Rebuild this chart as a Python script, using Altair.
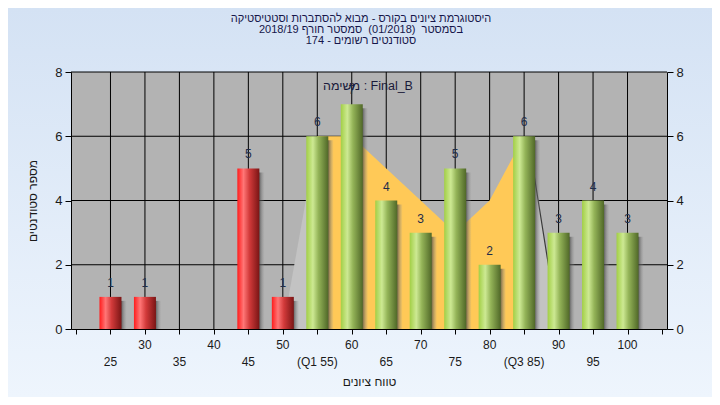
import altair as alt
import pandas as pd

# ---------------- data ----------------
grades = [25, 30, 35, 40, 45, 50, 55, 60, 65, 70, 75, 80, 85, 90, 95, 100]
counts = [1, 1, 0, 0, 5, 1, 6, 7, 4, 3, 5, 2, 6, 3, 4, 3]
tick_labels = ["25", "30", "35", "40", "45", "50", "(Q1 55)", "60", "65", "70",
               "75", "80", "(Q3 85)", "90", "95", "100"]
label_rows = [2, 1, 2, 1, 2, 1, 2, 1, 2, 1, 2, 1, 2, 1, 2, 1]
y_ticks = [0, 2, 4, 6, 8]
x_ticks = [20, 25, 30, 35, 40, 45, 50, 55, 60, 65, 70, 75, 80, 85, 90, 95, 100, 105]
grid_y = [2, 4, 6, 8]

# distribution band drawn behind the bars
dist_x = [50, 55, 55, 60, 65, 70, 75, 80, 85, 85, 86, 90]
dist_y = [0, 6, 6, 6, 5, 4, 3, 4, 6, 6, 5.4, 0]
dist_part = ["left", "left", "mid", "mid", "mid", "mid", "mid", "mid", "mid",
             "right", "right", "right"]

NBSP = "\u00a0"
title_lines = [
    "היסטוגרמת ציונים בקורס - מבוא להסתברות וסטטיסטיקה",
    "בסמסטר " + NBSP + "(01/2018)" + NBSP + " סמסטר חורף 2018/19",
    "סטודנטים רשומים - 174",
]
legend_text = "משימה : Final_B"
x_title = "טווח ציונים"
y_title = "מספר סטודנטים"

# ---------------- layout / style ----------------
W, H = 596, 257
PAD = {"left": 63, "top": 64, "right": 45, "bottom": 68}
FONT = "Liberation Sans"
TXT = "#1a1a1a"
TITLE_C = "#16164a"

bars_df = pd.DataFrame({"grade": grades, "count": counts,
                        "label": tick_labels, "row": label_rows})
pos_df = bars_df[bars_df["count"] > 0]
red_df = pos_df[pos_df["grade"] < 55]
green_df = pos_df[pos_df["grade"] >= 55]
dist_df = pd.DataFrame({"grade": dist_x, "v": dist_y, "part": dist_part})
gx_df = pd.DataFrame({"grade": grades})
gy_df = pd.DataFrame({"count": grid_y})
one = pd.DataFrame({"k": [0]})

xs = alt.Scale(domain=[20, 105], nice=False, zero=False)
ys = alt.Scale(domain=[0, 8], nice=False)


def X(field="grade", axis=None):
    return alt.X(f"{field}:Q", scale=xs, axis=axis)


def Y(field="count", axis=None):
    return alt.Y(f"{field}:Q", scale=ys, axis=axis, stack=None)


def grad(stops, vertical=False):
    return alt.Gradient(
        gradient="linear",
        x1=0, y1=0,
        x2=0 if vertical else 1,
        y2=1 if vertical else 0,
        stops=[alt.GradientStop(offset=o, color=c) for o, c in stops],
    )


bg_grad = grad([(0, "#d4e2f4"), (1, "#eef5fd")], vertical=True)
red_grad = grad([(0, "#ff1c1c"), (0.28, "#ff7676"), (0.55, "#d23a3a"), (1, "#7a1515")])
green_grad = grad([(0, "#a2cf45"), (0.3, "#cde993"), (0.55, "#94b458"), (1, "#506828")])
shadow_grad = grad([(0, "rgba(45,45,45,0.9)"), (0.72, "rgba(50,50,50,0.85)"),
                    (1, "rgba(150,150,150,0.1)")])

bg = alt.Chart(one).mark_rect(color=bg_grad).encode(
    x=alt.value(-PAD["left"]), x2=alt.value(W + PAD["right"]),
    y=alt.value(-PAD["top"]), y2=alt.value(H + PAD["bottom"]))

plot_bg = alt.Chart(one).mark_rect(color="#b3b3b3").encode(
    x=alt.value(0), x2=alt.value(W), y=alt.value(0), y2=alt.value(H))

x_axis = alt.Axis(values=x_ticks, labels=False, tickSize=5, tickColor="black",
                  domainColor="black", grid=False, title=x_title,
                  titleX=W / 2, titleY=52, titleBaseline="middle",
                  titleAlign="center", titleFont=FONT, titleFontSize=12,
                  titleFontWeight="normal", titleColor=TXT, zindex=1)

vgrid = alt.Chart(gx_df).mark_rule(color="black", strokeWidth=1).encode(
    x=X(axis=x_axis))
hgrid = alt.Chart(gy_df).mark_rule(color="black", strokeWidth=1).encode(y=Y())

area = alt.Chart(dist_df).mark_area(opacity=1).encode(
    x=X(), y=Y("v"),
    color=alt.Color("part:N", legend=None,
                    scale=alt.Scale(domain=["left", "mid", "right"],
                                    range=["#c3c3c3", "#ffc957", "#c3c3c3"])))

edge = alt.Chart(dist_df[dist_df["part"] == "right"]).mark_line(
    color="#3a3a3a", strokeWidth=1.2).encode(x=X(), y=Y("v"))

shadow = alt.Chart(pos_df).mark_bar(size=22, xOffset=5, yOffset=4,
                                    color=shadow_grad).encode(x=X(), y=Y())

left_axis = alt.Axis(orient="left", values=y_ticks, tickSize=6, tickColor="black",
                     domainColor="black", labelFont=FONT, labelFontSize=13,
                     labelColor=TXT, labelPadding=3, grid=False,
                     title=y_title, titleAngle=270, titleX=-39, titleY=H / 2,
                     titleAlign="center", titleBaseline="middle", titleFont=FONT,
                     titleFontSize=12, titleFontWeight="normal", titleColor=TXT,
                     zindex=1)
right_axis = alt.Axis(orient="right", values=y_ticks, tickSize=6, tickColor="black",
                      domainColor="black", labelFont=FONT, labelFontSize=13,
                      labelColor=TXT, labelPadding=3, grid=False, title=None,
                      zindex=1)

red_bars = alt.Chart(red_df).mark_bar(size=22, color=red_grad).encode(
    x=X(), y=Y(axis=left_axis))
green_bars = alt.Chart(green_df).mark_bar(size=22, color=green_grad).encode(
    x=X(), y=Y(axis=right_axis))

values = alt.Chart(pos_df).mark_text(dy=-7, baseline="bottom", font=FONT,
                                     fontSize=12, color="#1f2d4a").encode(
    x=X(), y=Y(), text="count:Q")

row1 = alt.Chart(bars_df[bars_df["row"] == 1]).mark_text(
    font=FONT, fontSize=12, color=TXT, baseline="middle").encode(
    x=X(), y=alt.value(H + 16), text="label:N")
row2 = alt.Chart(bars_df[bars_df["row"] == 2]).mark_text(
    font=FONT, fontSize=12, color=TXT, baseline="middle").encode(
    x=X(), y=alt.value(H + 33), text="label:N")

legend = alt.Chart(pd.DataFrame({"t": [legend_text]})).mark_text(
    font=FONT, fontSize=12.5, color="#1a1a3a", baseline="middle").encode(
    x=alt.value(297), y=alt.value(14), text="t:N")

title_layers = []
for line, yy in zip(title_lines, [-53, -42, -31]):
    title_layers.append(
        alt.Chart(pd.DataFrame({"t": [line]})).mark_text(
            font=FONT, fontSize=11, color=TITLE_C, baseline="middle").encode(
            x=alt.value(290), y=alt.value(yy), text="t:N"))

chart = alt.layer(
    bg, plot_bg, vgrid, hgrid, area, edge, shadow, red_bars, green_bars,
    values, row1, row2, legend, *title_layers
).resolve_axis(x="independent", y="independent").properties(
    width=W, height=H,
    autosize=alt.AutoSizeParams(type="none"),
    padding=PAD,
    background="#e3edf9",
).configure_view(stroke=None)

chart.save("out.html", embed_options={"renderer": "svg", "actions": False})
